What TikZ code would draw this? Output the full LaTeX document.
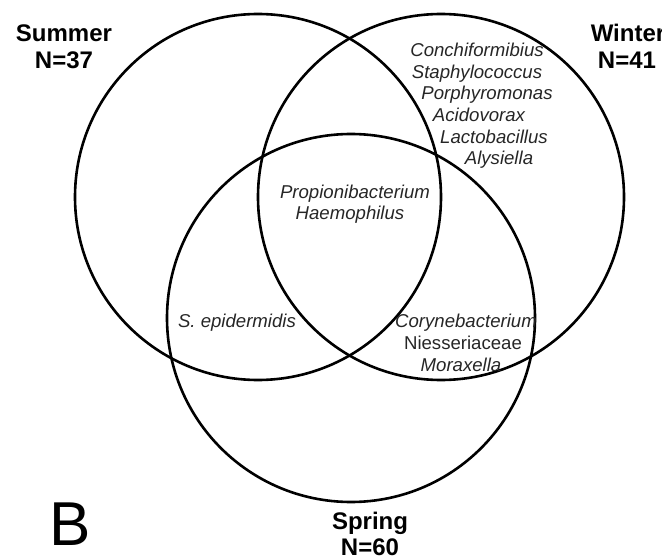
\documentclass[tikz,border=0pt]{standalone}
\usepackage{fontspec}
\setmainfont{Liberation Sans}
\tikzset{
  ring/.style={line width=2.6pt},
  season/.style={font=\bfseries\fontsize{24}{27}\selectfont, anchor=base, inner sep=0pt},
  taxon/.style={font=\itshape\fontsize{18.6}{21.8}\selectfont, text=black!85, anchor=base, inner sep=0pt},
  panel/.style={font=\fontsize{62}{62}\selectfont, anchor=base west, inner sep=0pt}
}
\begin{document}
\begin{tikzpicture}[x=1pt,y=-1pt]
\useasboundingbox (0,0) rectangle (662,559);
% the three seasons
\coordinate (cSummer) at (258,197);
\coordinate (cWinter) at (441,197);
\coordinate (cSpring) at (351,318);
\draw[ring] (cSummer) circle (183pt);
\draw[ring] (cWinter) circle (183pt);
\draw[ring] (cSpring) circle (184pt);
% season labels
\node[season] (summer) at (64,42) {Summer};
\node[season] (summerN) at (64,69) {N=37};
\node[season] (winter) at (628,42) {Winter};
\node[season] (winterN) at (627,69) {N=41};
\node[season] (spring) at (370,529) {Spring};
\node[season] (springN) at (370,555) {N=60};
% winter only
\foreach \taxname/\xx/\yy in {
  Conchiformibius/477/57, Staphylococcus/477/78.5, Porphyromonas/487/100,
  Acidovorax/479/122, Lactobacillus/494/143.5, Alysiella/499/165
}{
  \node[taxon] (w\taxname) at (\xx,\yy) {\taxname};
}
% all three
\node[taxon] (propioni) at (355,199) {Propionibacterium};
\node[taxon] (haemo) at (350,220) {Haemophilus};
% summer and spring
\node[taxon] (sepi) at (237,327) {S. epidermidis};
% winter and spring
\node[taxon] (coryne) at (466,327) {Corynebacterium};
\node[taxon, font=\upshape\fontsize{18.6}{21.8}\selectfont] (niesser) at (463,349) {Niesseriaceae};
\node[taxon] (morax) at (461,371) {Moraxella};
% panel letter
\node[panel] (panelB) at (49,545) {B};
\end{tikzpicture}
\end{document}
